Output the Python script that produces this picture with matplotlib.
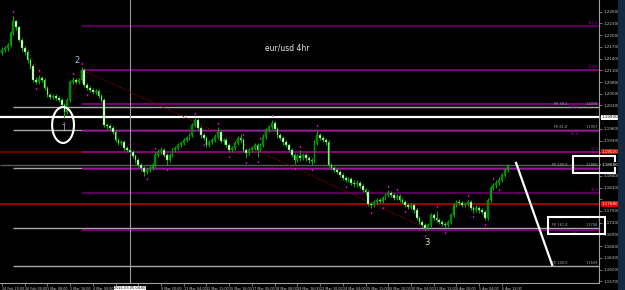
import matplotlib
matplotlib.use("Agg")
import matplotlib.pyplot as plt
import matplotlib.transforms as mtransforms
from matplotlib.patches import Rectangle, Ellipse
import numpy as np

# ---------------- data (EUR/USD 4h candles) ----------------
first_open = 1.2155
closes = [1.2162, 1.2167, 1.2175, 1.2205, 1.2236, 1.2220, 1.2188, 1.2167, 1.2157, 1.2136,
          1.2121, 1.2085, 1.2080, 1.2090, 1.2085, 1.2065, 1.2047, 1.2042, 1.2044, 1.2039,
          1.2034, 1.2021, 1.2003, 1.2034, 1.2080, 1.2085, 1.2080, 1.2085, 1.2111, 1.2072,
          1.2065, 1.2060, 1.2054, 1.2058, 1.2044, 1.2034, 1.1970, 1.1967, 1.1962, 1.1952,
          1.1932, 1.1924, 1.1926, 1.1911, 1.1906, 1.1901, 1.1891, 1.1880, 1.1868, 1.1860,
          1.1850, 1.1855, 1.1860, 1.1868, 1.1893, 1.1901, 1.1906, 1.1893, 1.1880, 1.1893,
          1.1906, 1.1911, 1.1919, 1.1924, 1.1932, 1.1937, 1.1944, 1.1970, 1.1983, 1.1962,
          1.1944, 1.1937, 1.1919, 1.1926, 1.1932, 1.1940, 1.1952, 1.1930, 1.1932, 1.1919,
          1.1906, 1.1911, 1.1925, 1.1938, 1.1932, 1.1906, 1.1898, 1.1906, 1.1911, 1.1919,
          1.1906, 1.1919, 1.1940, 1.1957, 1.1965, 1.1975, 1.1960, 1.1944, 1.1937, 1.1926,
          1.1919, 1.1906, 1.1893, 1.1880, 1.1890, 1.1885, 1.1893, 1.1885, 1.1880, 1.1878,
          1.1925, 1.1944, 1.1937, 1.1932, 1.1926, 1.1868, 1.1860, 1.1855, 1.1850, 1.1842,
          1.1834, 1.1829, 1.1832, 1.1822, 1.1818, 1.1822, 1.1814, 1.1804, 1.1798, 1.1768,
          1.1765, 1.1773, 1.1778, 1.1775, 1.1783, 1.1790, 1.1796, 1.1790, 1.1783, 1.1788,
          1.1778, 1.1773, 1.1765, 1.1760, 1.1765, 1.1752, 1.1732, 1.1722, 1.1714, 1.1706,
          1.1714, 1.1740, 1.1732, 1.1727, 1.1722, 1.1717, 1.1714, 1.1722, 1.1740, 1.1765,
          1.1773, 1.1770, 1.1765, 1.1768, 1.1773, 1.1758, 1.1752, 1.1758, 1.1752, 1.1747,
          1.1732, 1.1778, 1.1809, 1.1816, 1.1822, 1.1829, 1.1842, 1.1855, 1.1865]
highs = [1.2170, 1.2173, 1.2181, 1.2211, 1.2249, 1.2240, 1.2224, 1.2193, 1.2172, 1.2162,
         1.2141, 1.2126, 1.2092, 1.2098, 1.2096, 1.2090, 1.2070, 1.2053, 1.2050, 1.2049,
         1.2045, 1.2040, 1.2027, 1.2040, 1.2086, 1.2092, 1.2090, 1.2091, 1.2118, 1.2115,
         1.2078, 1.2070, 1.2065, 1.2063, 1.2062, 1.2050, 1.2038, 1.1976, 1.1973, 1.1968,
         1.1957, 1.1938, 1.1932, 1.1931, 1.1917, 1.1912, 1.1906, 1.1896, 1.1886, 1.1873,
         1.1866, 1.1861, 1.1866, 1.1874, 1.1900, 1.1908, 1.1913, 1.1911, 1.1898, 1.1899,
         1.1912, 1.1917, 1.1925, 1.1930, 1.1938, 1.1943, 1.1950, 1.1976, 1.1990, 1.1987,
         1.1967, 1.1950, 1.1942, 1.1932, 1.1938, 1.1946, 1.1964, 1.1956, 1.1938, 1.1937,
         1.1924, 1.1917, 1.1930, 1.1943, 1.1948, 1.1936, 1.1911, 1.1912, 1.1917, 1.1925,
         1.1924, 1.1925, 1.1946, 1.1963, 1.1971, 1.1983, 1.1980, 1.1965, 1.1949, 1.1942,
         1.1931, 1.1924, 1.1911, 1.1898, 1.1896, 1.1905, 1.1899, 1.1898, 1.1890, 1.1886,
         1.1931, 1.1957, 1.1950, 1.1943, 1.1937, 1.1931, 1.1874, 1.1866, 1.1861, 1.1856,
         1.1848, 1.1840, 1.1838, 1.1837, 1.1828, 1.1830, 1.1827, 1.1819, 1.1810, 1.1803,
         1.1774, 1.1779, 1.1784, 1.1784, 1.1789, 1.1796, 1.1803, 1.1801, 1.1795, 1.1794,
         1.1793, 1.1783, 1.1778, 1.1771, 1.1771, 1.1770, 1.1757, 1.1737, 1.1727, 1.1719,
         1.1720, 1.1746, 1.1745, 1.1750, 1.1732, 1.1727, 1.1722, 1.1728, 1.1746, 1.1771,
         1.1779, 1.1780, 1.1775, 1.1774, 1.1779, 1.1778, 1.1763, 1.1764, 1.1763, 1.1757,
         1.1752, 1.1784, 1.1815, 1.1822, 1.1828, 1.1836, 1.1848, 1.1861, 1.1870]
lows = [1.2150, 1.2156, 1.2160, 1.2170, 1.2200, 1.2214, 1.2182, 1.2160, 1.2150, 1.2130,
        1.2114, 1.2080, 1.2074, 1.2075, 1.2079, 1.2060, 1.2042, 1.2036, 1.2037, 1.2033,
        1.2028, 1.2015, 1.1988, 1.1998, 1.2030, 1.2074, 1.2075, 1.2076, 1.2080, 1.2068,
        1.2060, 1.2055, 1.2049, 1.2049, 1.2038, 1.2028, 1.1965, 1.1960, 1.1956, 1.1946,
        1.1926, 1.1918, 1.1919, 1.1905, 1.1900, 1.1895, 1.1885, 1.1874, 1.1862, 1.1853,
        1.1839, 1.1844, 1.1849, 1.1854, 1.1862, 1.1887, 1.1895, 1.1887, 1.1868, 1.1875,
        1.1888, 1.1900, 1.1905, 1.1913, 1.1918, 1.1926, 1.1931, 1.1939, 1.1964, 1.1956,
        1.1938, 1.1931, 1.1913, 1.1914, 1.1921, 1.1926, 1.1935, 1.1924, 1.1921, 1.1913,
        1.1900, 1.1901, 1.1906, 1.1920, 1.1927, 1.1900, 1.1885, 1.1893, 1.1901, 1.1906,
        1.1888, 1.1901, 1.1914, 1.1935, 1.1951, 1.1960, 1.1954, 1.1938, 1.1931, 1.1920,
        1.1913, 1.1900, 1.1887, 1.1870, 1.1875, 1.1879, 1.1880, 1.1879, 1.1874, 1.1868,
        1.1873, 1.1920, 1.1931, 1.1926, 1.1920, 1.1862, 1.1854, 1.1849, 1.1844, 1.1836,
        1.1828, 1.1823, 1.1823, 1.1816, 1.1812, 1.1812, 1.1808, 1.1798, 1.1792, 1.1762,
        1.1758, 1.1760, 1.1768, 1.1770, 1.1770, 1.1778, 1.1785, 1.1785, 1.1777, 1.1778,
        1.1772, 1.1767, 1.1759, 1.1754, 1.1755, 1.1746, 1.1726, 1.1716, 1.1708, 1.1699,
        1.1701, 1.1709, 1.1726, 1.1721, 1.1716, 1.1711, 1.1706, 1.1709, 1.1717, 1.1735,
        1.1760, 1.1764, 1.1759, 1.1760, 1.1762, 1.1752, 1.1746, 1.1747, 1.1746, 1.1741,
        1.1726, 1.1727, 1.1772, 1.1803, 1.1810, 1.1816, 1.1823, 1.1836, 1.1850]

up_fractals = [4, 13, 25, 28, 45, 54, 68, 76, 85, 91, 95, 105, 111, 136, 139, 153, 164, 173]
down_fractals = [12, 22, 30, 51, 58, 71, 80, 86, 90, 103, 109, 121, 130, 134, 142, 147,
                 149, 156, 166, 170, 175]

x_tick_bars = [0, 8, 16, 24, 32, 40, 48, 56, 64, 72, 80, 88, 96, 104, 112, 120, 128, 136,
               144, 152, 160, 168, 176]
x_tick_labels = ["24 Feb 20:00", "26 Feb 04:00", "1 Mar 08:00", "2 Mar 16:00", "4 Mar 00:00",
                 "5 Mar 08:00", "8 Mar 12:00", "9 Mar 20:00", "11 Mar 04:00", "12 Mar 12:00",
                 "15 Mar 16:00", "17 Mar 00:00", "18 Mar 08:00", "19 Mar 16:00", "22 Mar 20:00",
                 "24 Mar 04:00", "25 Mar 12:00", "26 Mar 20:00", "30 Mar 04:00", "31 Mar 12:00",
                 "1 Apr 20:00", "5 Apr 04:00", "6 Apr 12:00"]
y_ticks = [1.1570, 1.1600, 1.1630, 1.1660, 1.1690, 1.1720, 1.1750, 1.1780, 1.1810, 1.1840,
           1.1870, 1.1900, 1.1930, 1.1960, 1.1990, 1.2020, 1.2050, 1.2080, 1.2110, 1.2140,
           1.2170, 1.2200, 1.2230, 1.2260]

# Fibonacci expansion (gray, anchored at the Feb 25 high)
fe_levels = [1.2016, 1.1957, 1.1860, 1.1706, 1.1609]
fe_names = ["FE 38.2", "FE 61.8", "FE 100.0", "FE 161.8", "FE 200.0"]
fe_start_bar = 4
# Fibonacci retracement (purple, anchored at point 2)
fib_levels = [1.2223, 1.2111, 1.2024, 1.1955, 1.1902, 1.1857, 1.1796, 1.1701]
fib_names = ["127.2", "100.0", "78.6", "61.8", "50.0", "38.2", "23.6", "0.0"]
fib_dark = [True, False, False, False, False, False, True, False]
fib_start_bar = 28
# other horizontal levels (full width)
white_level = 1.1990
red_level = 1.1768
darkred_level = 1.1902
gray_level = 1.1868

# zigzag / projection drawings: (bar, price) pairs
zigzag_segments = [[(4.6, 1.2218), (14.4, 1.2090)],
                   [(22.2, 1.2003), (28.2, 1.2111)],
                   [(28.2, 1.2111), (148.2, 1.1709)]]
projection = [(181.0, 1.1873), (193.7, 1.1612)]
boxes = [(201.1, 1.1847, 215.8, 1.1891), (192.3, 1.1691, 212.3, 1.17345)]
crosshair_bar = 45
crosshair_label = "2021.03.05 04:00"

# ---------------- figure ----------------
W, H = 625, 290
fig = plt.figure(figsize=(W / 100, H / 100), dpi=100, facecolor="black")
ax = fig.add_axes([0, 7 / H, 599 / W, 283 / H])
ax.set_facecolor("black")
XMIN, XMAX = -0.70, 210.2
YMIN, YMAX = 1.2290 - 283 * 0.000256, 1.2290
ax.set_xlim(XMIN, XMAX)
ax.set_ylim(YMIN, YMAX)

# right border strip
fig.patches.append(Rectangle((618 / W, 0), 7 / W, 1, transform=fig.transFigure,
                             color="#14283f", zorder=0))

# horizontal levels
ax.hlines(darkred_level, XMIN, XMAX, color="#7a0000", lw=1.2, zorder=1)
ax.hlines(red_level, XMIN, XMAX, color="#c00000", lw=1.2, zorder=1)
ax.hlines(gray_level, XMIN, XMAX, color="#5a5a5a", lw=1.0, zorder=1)
for lv, nm in zip(fe_levels, fe_names):
    ax.hlines(lv, fe_start_bar, XMAX, color="#a8a8a8", lw=1.0, zorder=1)
    ax.text(199.0, lv + 0.0002, nm, color="#b0b0b0", fontsize=2.5, ha="right", va="bottom")
    ax.text(209.9, lv + 0.0002, f"{lv:.4f}", color="#b0b0b0", fontsize=2.5, ha="right",
            va="bottom")
near_fe = [min(abs(lv - f) for f in fe_levels) < 0.0012 for lv in fib_levels]
for lv, nm, dk, nr in zip(fib_levels, fib_names, fib_dark, near_fe):
    col = "#550055" if dk else "#8e008e"
    ax.hlines(lv, fib_start_bar, XMAX, color=col, lw=1.6 if dk else 1.2, zorder=1)
    if nr:
        ax.text(203.0, lv - 0.0002, nm, color="#b000b0", fontsize=2.5, ha="right", va="top")
    else:
        ax.text(209.9, lv + 0.0002, nm, color="#b000b0", fontsize=2.5, ha="right",
                va="bottom")
ax.hlines(white_level, XMIN, XMAX, color="white", lw=1.6, zorder=1)

# crosshair
ax.axvline(crosshair_bar, color="#9a9a9a", lw=0.8, zorder=1)

# zigzag dotted lines
for seg in zigzag_segments:
    (xa, ya), (xb, yb) = seg
    ax.plot([xa, xb], [ya, yb], color="#a00000", lw=0.8, ls=(0, (1, 1.5)), zorder=2)

# candles
n = len(closes)
xs = np.arange(n)
c = np.array(closes)
o = np.array([first_open] + closes[:-1])
hi = np.maximum(np.array(highs), np.maximum(o, c))
lo = np.minimum(np.array(lows), np.minimum(o, c))
bull = c >= o
ax.vlines(xs, lo, hi, color="#00b400", lw=0.7, zorder=3)
body_h = np.where(np.abs(c - o) < 0.00008, 0.00008, c - o)
ax.bar(xs, body_h, bottom=o, width=0.62, color=np.where(bull, "#007a00", "white"),
       edgecolor="#00b400", linewidth=0.3, zorder=4)

# fractal markers
ax.scatter(up_fractals, hi[up_fractals] + 0.0012, marker="^", s=2.5, color="#ff00ff",
           linewidths=0, zorder=5)
ax.scatter(down_fractals, lo[down_fractals] - 0.0012, marker="v", s=2.5, color="#ff00ff",
           linewidths=0, zorder=5)

# projection line and boxes
ax.plot([projection[0][0], projection[1][0]], [projection[0][1], projection[1][1]],
        color="white", lw=1.6, zorder=6)
for (x0, y0, x1, y1) in boxes:
    ax.add_patch(Rectangle((x0, y0), x1 - x0, y1 - y0, fill=False, edgecolor="white",
                           lw=1.5, clip_on=False, zorder=7))
ax.add_patch(Ellipse((21.5, 1.1970), 7.7, 0.0092, fill=False, edgecolor="white", lw=1.5,
                     zorder=6))

# texts
ax.text(100.4, 1.2167, "eur/usd 4hr", color="#e8e8e8", fontsize=5.5, ha="center", va="center")
ax.text(26.4, 1.2134, "2", color="#a9c3e0", fontsize=6, ha="center", va="center")
ax.text(21.8, 1.1960, "1", color="#bdbdbd", fontsize=5.5, ha="center", va="center")
ax.text(149.6, 1.1670, "3", color="#f0e4c4", fontsize=6, ha="center", va="center")

# axes styling
for s in ["top", "left"]:
    ax.spines[s].set_visible(False)
ax.spines["right"].set_color("#a0a0a0")
ax.spines["bottom"].set_color("#a0a0a0")
ax.spines["right"].set_linewidth(0.8)
ax.spines["bottom"].set_linewidth(0.8)

highlight = [(white_level, "white", "black"), (darkred_level, "#e00000", "white"),
             (red_level, "#e00000", "white"), (gray_level, "black", "white")]
hl_vals = [h[0] for h in highlight]

ax.yaxis.tick_right()
ax.set_yticks(y_ticks)
ax.set_yticklabels(["" if min(abs(v - hv) for hv in hl_vals) < 0.0013 else f"{v:.5f}"
                    for v in y_ticks])
ax.tick_params(axis="y", colors="#a0a0a0", labelcolor="#c8c8c8", labelsize=3.0,
               length=2, width=0.5, pad=1)
ax.set_xticks(x_tick_bars)
ax.set_xticklabels(["" if abs(b - crosshair_bar) < 6 else t
                    for b, t in zip(x_tick_bars, x_tick_labels)], ha="left")
ax.tick_params(axis="x", colors="#a0a0a0", labelcolor="#c8c8c8", labelsize=2.4,
               length=2, width=0.5, pad=0.6)
for lab in ax.get_xticklabels():
    lab.set_x(lab.get_position()[0])

# highlighted axis labels
tr = mtransforms.blended_transform_factory(ax.transAxes, ax.transData)
for val, bg, fg in highlight:
    ax.text(1.004, val, f"{val:.5f}", transform=tr, color=fg, fontsize=3.0, ha="left",
            va="center", clip_on=False, zorder=10,
            bbox=dict(boxstyle="square,pad=0.15", fc=bg, ec="none"))

# crosshair date label
trx = mtransforms.blended_transform_factory(ax.transData, ax.transAxes)
ax.text(crosshair_bar, -0.012, crosshair_label, transform=trx, color="black", fontsize=2.5,
        ha="center", va="top", clip_on=False, zorder=10,
        bbox=dict(boxstyle="square,pad=0.15", fc="white", ec="none"))

fig.savefig("out.png", dpi=100, facecolor="black")
